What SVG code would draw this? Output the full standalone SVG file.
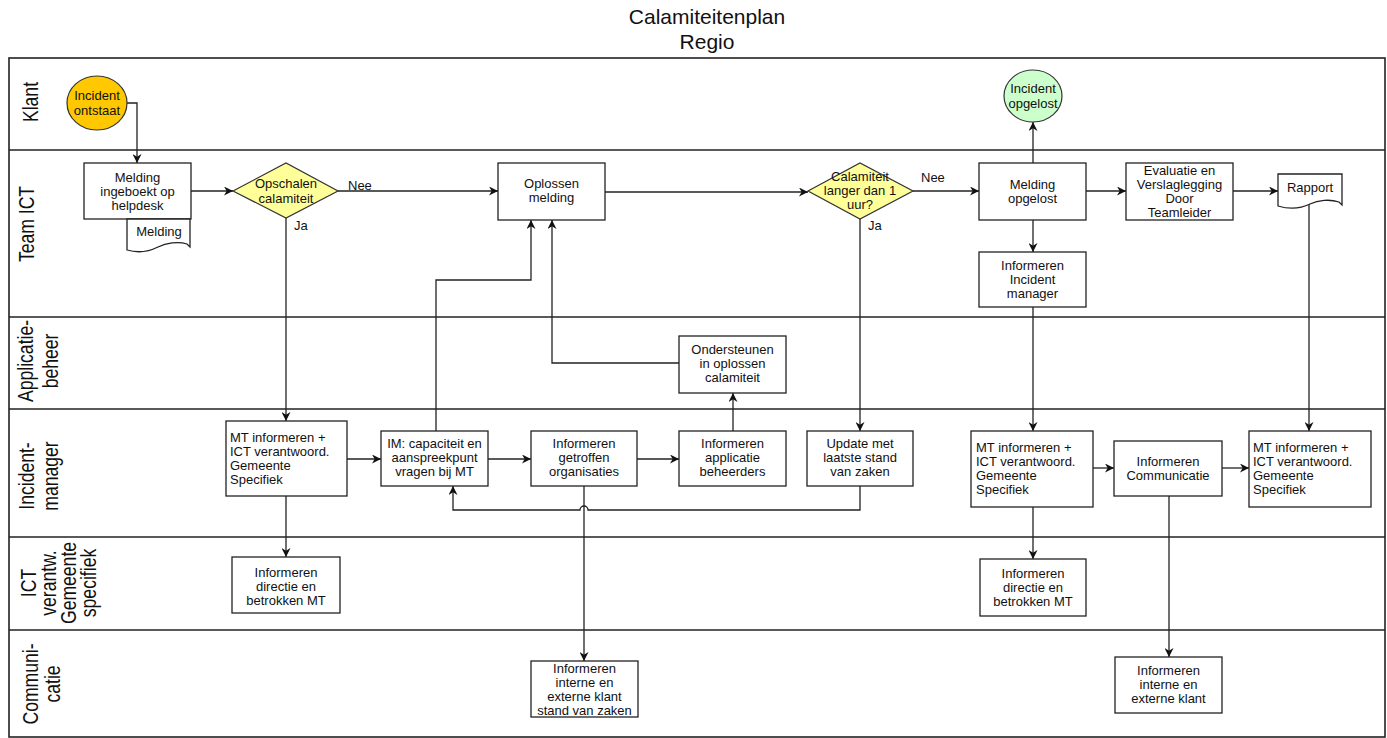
<svg xmlns="http://www.w3.org/2000/svg" width="1387" height="738" viewBox="0 0 1387 738">
<style>
.lane{fill:none;stroke:#222;stroke-width:1.6}
.box{fill:#fff;stroke:#222;stroke-width:1.3}
.t{font-family:"Liberation Sans",Arial,sans-serif;font-size:13px;fill:#111;text-anchor:middle}
.tl{text-anchor:start}
.lt{font-family:"Liberation Sans",Arial,sans-serif;font-size:22px;fill:#111;text-anchor:middle}
.title{font-family:"Liberation Sans",Arial,sans-serif;font-size:21px;fill:#111;text-anchor:middle}
.conn{fill:none;stroke:#222;stroke-width:1.3;marker-end:url(#arr)}
.lbl{font-family:"Liberation Sans",Arial,sans-serif;font-size:13px;fill:#111}
</style>
<defs>
<marker id="arr" viewBox="0 0 10 10" refX="10" refY="5" markerWidth="9" markerHeight="9" markerUnits="userSpaceOnUse" orient="auto">
<path d="M0,0 L10,5 L0,10 L3,5 Z" fill="#111"/>
</marker>
</defs>
<rect width="1387" height="738" fill="#fff"/>
<g id="title">
<text class="title" x="707" y="24">Calamiteitenplan</text>
<text class="title" x="707" y="49">Regio</text>
</g>
<g id="lanes">
<rect class="lane" x="9" y="58" width="1376" height="679"/>
<line class="lane" x1="9" y1="150" x2="1385" y2="150"/>
<line class="lane" x1="9" y1="317" x2="1385" y2="317"/>
<line class="lane" x1="9" y1="409" x2="1385" y2="409"/>
<line class="lane" x1="9" y1="537" x2="1385" y2="537"/>
<line class="lane" x1="9" y1="630" x2="1385" y2="630"/>
<text class="lt" transform="translate(37.5,102) rotate(-90) scale(0.8,1)">Klant</text>
<text class="lt" transform="translate(34,224) rotate(-90) scale(0.8,1)">Team ICT</text>
<text class="lt" transform="translate(33,361) rotate(-90) scale(0.8,1)">Applicatie-</text>
<text class="lt" transform="translate(58,361) rotate(-90) scale(0.8,1)">beheer</text>
<text class="lt" transform="translate(34,476) rotate(-90) scale(0.8,1)">Incident-</text>
<text class="lt" transform="translate(58,476) rotate(-90) scale(0.8,1)">manager</text>
<text class="lt" transform="translate(36,583) rotate(-90) scale(0.8,1)">ICT</text>
<text class="lt" transform="translate(56,583) rotate(-90) scale(0.8,1)">verantw.</text>
<text class="lt" transform="translate(76,583) rotate(-90) scale(0.8,1)">Gemeente</text>
<text class="lt" transform="translate(96,583) rotate(-90) scale(0.8,1)">specifiek</text>
<text class="lt" transform="translate(37.5,684) rotate(-90) scale(0.8,1)">Communi-</text>
<text class="lt" transform="translate(60,684) rotate(-90) scale(0.8,1)">catie</text>
</g>
<g id="connectors">
<path class="conn" d="M127,103 H137 V163"/>
<path class="conn" d="M191,191 H233"/>
<path class="conn" d="M338,191 H498"/>
<path class="conn" d="M286,218 V421"/>
<path class="conn" d="M605,192 H808"/>
<path class="conn" d="M913,191 H979"/>
<path class="conn" d="M860,219 V431"/>
<path class="conn" d="M1033,163 V122"/>
<path class="conn" d="M1086,191 H1126"/>
<path class="conn" d="M1233,191 H1278"/>
<path class="conn" d="M1309,204 V431"/>
<path class="conn" d="M1033,220 V252"/>
<path class="conn" d="M1033,307 V431"/>
<path class="conn" d="M347,459 H381"/>
<path class="conn" d="M436,431 V280 H531 V220"/>
<path class="conn" d="M488,459 H531"/>
<path class="conn" d="M637,459 H679"/>
<path class="conn" d="M733,431 V393"/>
<path class="conn" d="M679,363 H552 V220"/>
<path class="conn" d="M860,486 V510 H588 A4,4 0 0 0 580,510 H453 V486"/>
<path class="conn" d="M584,486 V661"/>
<path class="conn" d="M286,496 V557"/>
<path class="conn" d="M1093,468 H1114"/>
<path class="conn" d="M1222,468 H1249"/>
<path class="conn" d="M1033,507 V559"/>
<path class="conn" d="M1169,496 V657"/>
<text class="lbl" x="348" y="190">Nee</text>
<text class="lbl" x="294" y="230">Ja</text>
<text class="lbl" x="921" y="182">Nee</text>
<text class="lbl" x="868" y="230">Ja</text>
</g>
<g id="incident-ontstaat">
<ellipse cx="97" cy="103" rx="30" ry="27" fill="#FFC800" stroke="#333" stroke-width="1.2"/>
<text class="t" x="97" y="99.5">Incident</text>
<text class="t" x="97" y="114.5">ontstaat</text>
</g>
<g id="melding-ingeboekt">
<rect class="box" x="84" y="163" width="107" height="56"/>
<text class="t" x="137.5" y="181.5">Melding</text>
<text class="t" x="137.5" y="195.5">ingeboekt op</text>
<text class="t" x="137.5" y="209.5">helpdesk</text>
</g>
<g id="doc-melding">
<path class="box" d="M127,219 H190 V247 L187,244 C178,241 166,243 158,247 C148,252 137,253 127,250 Z"/>
<text class="t" x="159" y="235.5">Melding</text>
</g>
<g id="opschalen">
<polygon points="233,191 286,163 338,191 286,218" fill="#FFFF99" stroke="#333" stroke-width="1.2"/>
<text class="t" x="286" y="188">Opschalen</text>
<text class="t" x="286" y="202.5">calamiteit</text>
</g>
<g id="oplossen-melding">
<rect class="box" x="498" y="163" width="107" height="57"/>
<text class="t" x="551.5" y="187.5">Oplossen</text>
<text class="t" x="551.5" y="201.5">melding</text>
</g>
<g id="calamiteit-langer">
<polygon points="808,191 860,163 913,191 860,219" fill="#FFFF99" stroke="#333" stroke-width="1.2"/>
<text class="t" x="860" y="180.5">Calamiteit</text>
<text class="t" x="860" y="194.5">langer dan 1</text>
<text class="t" x="860" y="208.5">uur?</text>
</g>
<g id="incident-opgelost">
<ellipse cx="1033" cy="96" rx="29" ry="26" fill="#CCFFCC" stroke="#333" stroke-width="1.2"/>
<text class="t" x="1033" y="92.5">Incident</text>
<text class="t" x="1033" y="107.5">opgelost</text>
</g>
<g id="melding-opgelost">
<rect class="box" x="979" y="163" width="107" height="57"/>
<text class="t" x="1032.5" y="188.5">Melding</text>
<text class="t" x="1032.5" y="202.5">opgelost</text>
</g>
<g id="evaluatie">
<rect class="box" x="1126" y="163" width="107" height="57"/>
<text class="t" x="1179.5" y="174.5">Evaluatie en</text>
<text class="t" x="1179.5" y="188.5">Verslaglegging</text>
<text class="t" x="1179.5" y="202.5">Door</text>
<text class="t" x="1179.5" y="216.5">Teamleider</text>
</g>
<g id="rapport">
<path class="box" d="M1278,174 H1342 V205 L1339,202 C1330,199 1318,200 1310,204 C1300,209 1288,209 1278,206 Z"/>
<text class="t" x="1310" y="191.5">Rapport</text>
</g>
<g id="informeren-incident-manager">
<rect class="box" x="979" y="252" width="107" height="55"/>
<text class="t" x="1032.5" y="269.5">Informeren</text>
<text class="t" x="1032.5" y="283.5">Incident</text>
<text class="t" x="1032.5" y="297.5">manager</text>
</g>
<g id="ondersteunen">
<rect class="box" x="679" y="336" width="107" height="57"/>
<text class="t" x="732.5" y="353.5">Ondersteunen</text>
<text class="t" x="732.5" y="367.5">in oplossen</text>
<text class="t" x="732.5" y="381.5">calamiteit</text>
</g>
<g id="mt-informeren-1">
<rect class="box" x="226" y="421" width="121" height="75"/>
<text class="t tl" x="230" y="441.5">MT informeren +</text>
<text class="t tl" x="230" y="455.5">ICT verantwoord.</text>
<text class="t tl" x="230" y="469.5">Gemeente</text>
<text class="t tl" x="230" y="483.5">Specifiek</text>
</g>
<g id="im-capaciteit">
<rect class="box" x="381" y="431" width="107" height="55"/>
<text class="t" x="434.5" y="447.5">IM: capaciteit en</text>
<text class="t" x="434.5" y="461.5">aanspreekpunt</text>
<text class="t" x="434.5" y="475.5">vragen bij MT</text>
</g>
<g id="informeren-getroffen">
<rect class="box" x="531" y="431" width="106" height="55"/>
<text class="t" x="584" y="447.5">Informeren</text>
<text class="t" x="584" y="461.5">getroffen</text>
<text class="t" x="584" y="475.5">organisaties</text>
</g>
<g id="informeren-applicatie">
<rect class="box" x="679" y="431" width="107" height="55"/>
<text class="t" x="732.5" y="447.5">Informeren</text>
<text class="t" x="732.5" y="461.5">applicatie</text>
<text class="t" x="732.5" y="475.5">beheerders</text>
</g>
<g id="update">
<rect class="box" x="807" y="431" width="106" height="55"/>
<text class="t" x="860" y="447.5">Update met</text>
<text class="t" x="860" y="461.5">laatste stand</text>
<text class="t" x="860" y="475.5">van zaken</text>
</g>
<g id="mt-informeren-2">
<rect class="box" x="971" y="431" width="122" height="76"/>
<text class="t tl" x="976" y="451.5">MT informeren +</text>
<text class="t tl" x="976" y="465.5">ICT verantwoord.</text>
<text class="t tl" x="976" y="479.5">Gemeente</text>
<text class="t tl" x="976" y="493.5">Specifiek</text>
</g>
<g id="informeren-communicatie">
<rect class="box" x="1114" y="441" width="108" height="55"/>
<text class="t" x="1168" y="465.5">Informeren</text>
<text class="t" x="1168" y="479.5">Communicatie</text>
</g>
<g id="mt-informeren-3">
<rect class="box" x="1249" y="431" width="122" height="76"/>
<text class="t tl" x="1253" y="451.5">MT informeren +</text>
<text class="t tl" x="1253" y="465.5">ICT verantwoord.</text>
<text class="t tl" x="1253" y="479.5">Gemeente</text>
<text class="t tl" x="1253" y="493.5">Specifiek</text>
</g>
<g id="informeren-directie-1">
<rect class="box" x="232" y="557" width="108" height="56"/>
<text class="t" x="286" y="576.5">Informeren</text>
<text class="t" x="286" y="590.5">directie en</text>
<text class="t" x="286" y="604.5">betrokken MT</text>
</g>
<g id="informeren-directie-2">
<rect class="box" x="980" y="559" width="106" height="57"/>
<text class="t" x="1033" y="577.5">Informeren</text>
<text class="t" x="1033" y="591.5">directie en</text>
<text class="t" x="1033" y="605.5">betrokken MT</text>
</g>
<g id="informeren-interne-1">
<rect class="box" x="531" y="661" width="107" height="56"/>
<text class="t" x="584.5" y="672.5">Informeren</text>
<text class="t" x="584.5" y="686.5">interne en</text>
<text class="t" x="584.5" y="700.5">externe klant</text>
<text class="t" x="584.5" y="714.5">stand van zaken</text>
</g>
<g id="informeren-interne-2">
<rect class="box" x="1115" y="657" width="107" height="56"/>
<text class="t" x="1168.5" y="674.5">Informeren</text>
<text class="t" x="1168.5" y="688.5">interne en</text>
<text class="t" x="1168.5" y="702.5">externe klant</text>
</g>
</svg>
